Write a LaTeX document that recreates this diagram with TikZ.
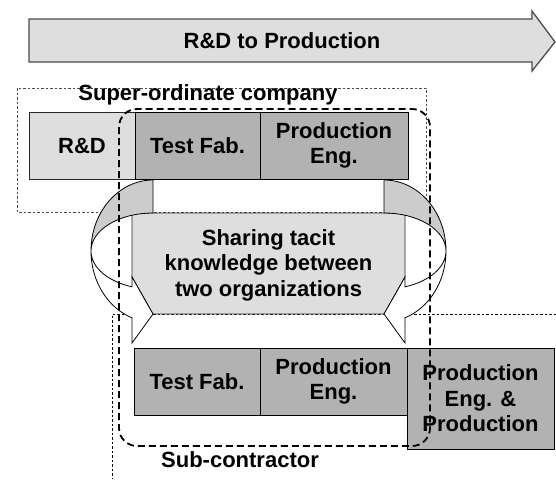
\documentclass[tikz,border=0pt]{standalone}
\usepackage{fontspec}
\setmainfont{Liberation Sans}
\tikzset{
    lbl/.style={font=\fontsize{22}{25.5}\selectfont\bfseries, align=center, inner sep=0pt},
    lightbox/.style={draw=black!85, line width=1pt, fill=black!13},
    darkbox/.style={draw=black, line width=1pt, fill=black!30},
    backband/.style={draw=black, line width=0.8pt, fill=black!20},
    frontband/.style={draw=black, line width=0.8pt, fill=white},
    orgline/.style={draw=black!70, line width=1pt, dash pattern=on 2.5pt off 2pt},
    subline/.style={draw=black, line width=0.9pt, dash pattern=on 2.5pt off 2pt},
    cluster/.style={draw=black, line width=1.8pt, dash pattern=on 7pt off 4pt, rounded corners=18pt}
}
\begin{document}
\begin{tikzpicture}[x=1pt,y=-1pt]
    \useasboundingbox (0,0) rectangle (556,479);

    % organisation borders
    \draw[orgline] (17,88) rectangle (426,212);
    \draw[subline] (556,314) -- (112,314) -- (112,479);

    % flow arrow
    \draw[draw=black!70, line width=1.3pt, fill=black!13] (29,19) -- (532,19) -- (532,11) -- (555,42)
        -- (532,71) -- (532,62) -- (29,62) -- cycle;
    \node[lbl, anchor=base] (flow) at (282,48.5) {R\&D to Production};

    % shared part
    \draw[lightbox, line width=0.8pt] (132,277) -- (132,213) -- (405,213) -- (405,277) -- (384,314) -- (153,314) -- cycle;
    \foreach \m in {1,-1} {
        \begin{scope}[shift={(268.5,0)}, xscale=\m]
            \draw[backband] (-115.5,180) arc[start angle=-90, end angle=-180, x radius=62, y radius=71]
                arc[start angle=-180, end angle=-90, x radius=62, y radius=38] -- cycle;
            \draw[frontband] (-177.5,251) arc[start angle=-180, end angle=-250.2, x radius=62, y radius=71]
                -- (-136.5,343) -- (-115.5,314) -- (-136.5,277) -- (-136.5,286.8)
                arc[start angle=-250.2, end angle=-180, x radius=62, y radius=38] -- cycle;
        \end{scope}
    }
    \node[lbl] (share) at (268.5,265) {Sharing tacit\\knowledge between\\two organizations};

    % super-ordinate company
    \node[lbl, anchor=base] (supco) at (208,100) {Super-ordinate company};
    \draw[lightbox] (29,112) rectangle (135,179) node[midway, lbl] (rd) {R\&D};
    \draw[darkbox] (135,112) rectangle (260,179) node[midway, lbl] (fabtop) {Test Fab.};
    \draw[darkbox] (260,112) rectangle (408,179) node[midway, lbl] (engtop) {Production\\Eng.};

    % sub-contractor
    \draw[darkbox] (134,348) rectangle (260,415) node[midway, lbl] (fabsub) {Test Fab.};
    \draw[darkbox] (260,348) rectangle (407,415) node[midway, lbl] (engsub) {Production\\Eng.};
    \draw[darkbox] (407,348) rectangle (554,449) node[midway, lbl] (prodsub) {Production\\Eng. \&\\Production};
    \node[lbl, anchor=base] (subco) at (240,467) {Sub-contractor};

    \draw[cluster] (119,109) rectangle (430,446);
\end{tikzpicture}
\end{document}
